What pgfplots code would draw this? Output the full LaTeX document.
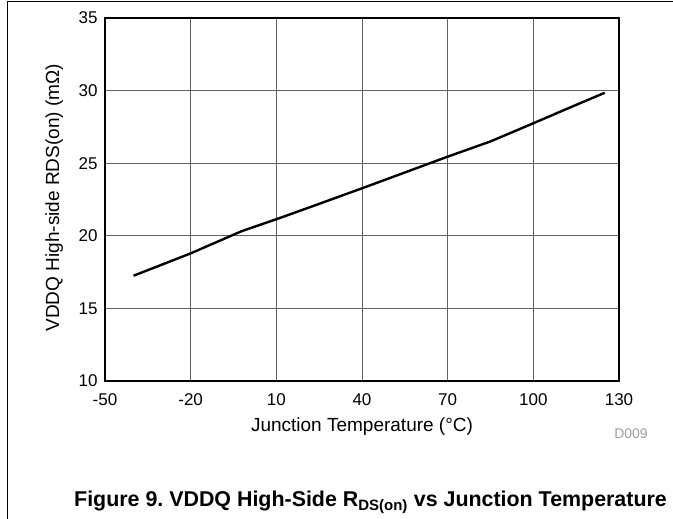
\documentclass[border=0pt]{standalone}
\usepackage{pgfplots}
\pgfplotsset{compat=1.18}
\usepackage{fontspec}
\setmainfont{Liberation Sans}
\frenchspacing

\definecolor{gridgray}{gray}{0.38}
\definecolor{codegray}{gray}{0.62}

\begin{document}
\begin{tikzpicture}
	\useasboundingbox (-105bp,-138bp) rectangle (568bp,381bp);
	% page frame (left and top only)
	\draw[line width=1bp] (-97.5bp,-138bp) -- (-97.5bp,379.5bp) -- (568bp,379.5bp);
	\begin{axis}[
	at={(0,0)}, anchor=south west,
	scale only axis,
	width=514bp, height=363bp,
	xmin=-50, xmax=130,
	ymin=10, ymax=35,
	xtick={-50,-20,10,40,70,100,130},
	xticklabels={-50,-20,10,40,70,100,130},
	ytick={10,15,20,25,30,35},
	yticklabels={10,15,20,25,30,35},
	major tick length=0pt,
	grid=major,
	grid style={gridgray, line width=0.8bp},
	axis line style={line width=2.2bp},
	tick label style={font=\fontsize{17bp}{20bp}\selectfont},
	xticklabel style={yshift=-9bp},
	yticklabel style={xshift=-4bp},
	xlabel={Junction Temperature (\textdegree C)},
	ylabel={VDDQ High-side RDS(on) (mΩ)},
	label style={font=\fontsize{19bp}{22bp}\selectfont},
	xlabel style={at={(axis description cs:0.5,0)}, anchor=base, yshift=-50bp},
	ylabel style={at={(axis description cs:-0.0895,0.505)}, anchor=base},
	]
	\addplot[black, line width=2.4bp] coordinates {
		(-40,17.25) (-20,18.79) (-2,20.33) (10,21.14) (25,22.2) (40,23.27) (70,25.45) (85,26.5) (100,27.75) (113,28.85) (125,29.85)
	};
	\end{axis}
	\node[codegray, font=\fontsize{14bp}{16bp}\selectfont] at (526bp,-53bp) {D009};
	\node[font=\bfseries\fontsize{21.4bp}{24bp}\selectfont] at (265.5bp,-121bp) {Figure 9. VDDQ High-Side R\textsubscript{DS(on)} vs Junction Temperature};
\end{tikzpicture}
\end{document}
